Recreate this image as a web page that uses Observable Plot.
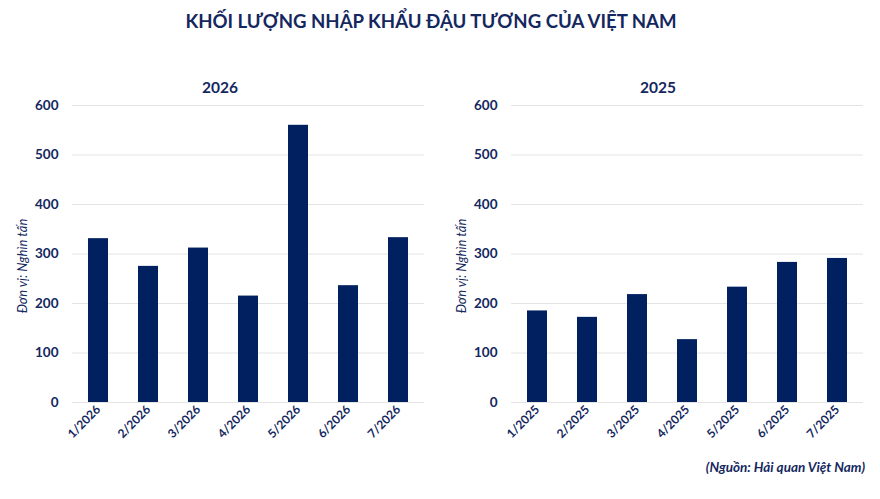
<!DOCTYPE html>
<html>
<head>
<meta charset="utf-8">
<script src="https://cdn.jsdelivr.net/npm/d3@7"></script>
<script src="https://cdn.jsdelivr.net/npm/@observablehq/plot@0.6"></script>
<style>
  html, body { margin: 0; padding: 0; background: #fff; }
  #root { position: relative; width: 880px; height: 499px; font-family: Lato, "Open Sans", sans-serif; color: #14275e; overflow: hidden; }
  .abs { position: absolute; }
  #title { left: 0; width: 862px; top: 10px; text-align: center; font-weight: 700; font-size: 18.6px; }
  .sub { top: 78px; width: 100px; text-align: center; font-weight: 700; font-size: 15.5px; }
  #source { right: 15px; top: 459px; font-weight: 700; font-style: italic; font-size: 13.5px; }
</style>
</head>
<body>
<div id="root">
  <div id="title" class="abs">KHỐI LƯỢNG NHẬP KHẨU ĐẬU TƯƠNG CỦA VIỆT NAM</div>
  <div id="sub1" class="abs sub" style="left:170px">2026</div>
  <div id="sub2" class="abs sub" style="left:608px">2025</div>
  <div id="left" class="abs" style="left:0; top:80px"></div>
  <div id="right" class="abs" style="left:440px; top:80px"></div>
  <div id="source" class="abs">(Nguồn: Hải quan Việt Nam)</div>
</div>
<script>
const months2026 = ["1/2026", "2/2026", "3/2026", "4/2026", "5/2026", "6/2026", "7/2026"];
const values2026 = [331, 275, 312, 215, 560, 236, 333];
const months2025 = ["1/2025", "2/2025", "3/2025", "4/2025", "5/2025", "6/2025", "7/2025"];
const values2025 = [185, 172, 218, 127, 233, 283, 291];
const yTicks = [0, 100, 200, 300, 400, 500, 600];
const unitLabel = "Đơn vị: Nghìn tấn";

const textColor = "#14275e";
const barColor = "#002060";

function chart(months, values, marginLeft, marginRight) {
  const data = months.map((m, i) => ({month: m, value: values[i]}));
  return Plot.plot({
    width: 440,
    height: 370,
    marginTop: 25,
    marginBottom: 48,
    marginLeft,
    marginRight,
    style: {fontFamily: "Lato, 'Open Sans', sans-serif", color: textColor, background: "transparent"},
    x: {domain: months, paddingInner: 0.6, paddingOuter: 0.3, label: null},
    y: {domain: [0, 600], label: null},
    marks: [
      Plot.gridY(yTicks, {stroke: "#e4e4e4", strokeOpacity: 1, strokeWidth: 1}),
      Plot.barY(data, {x: "month", y: "value", fill: barColor}),
      Plot.axisY(yTicks, {tickSize: 0, tickPadding: 14, fontSize: 13.5, fontWeight: 700, fill: textColor, label: null}),
      Plot.axisX({tickSize: 0, tickPadding: 5, tickRotate: -45, fontSize: 12, fontWeight: 700, fill: textColor, label: null}),
      Plot.text([unitLabel], {frameAnchor: "left", rotate: -90, dx: -50, dy: 12, fontSize: 13, fontStyle: "italic", fill: textColor, textAnchor: "middle"})
    ]
  });
}

document.getElementById("left").appendChild(chart(months2026, values2026, 72, 16));
document.getElementById("right").appendChild(chart(months2025, values2025, 71, 17));
</script>
</body>
</html>
